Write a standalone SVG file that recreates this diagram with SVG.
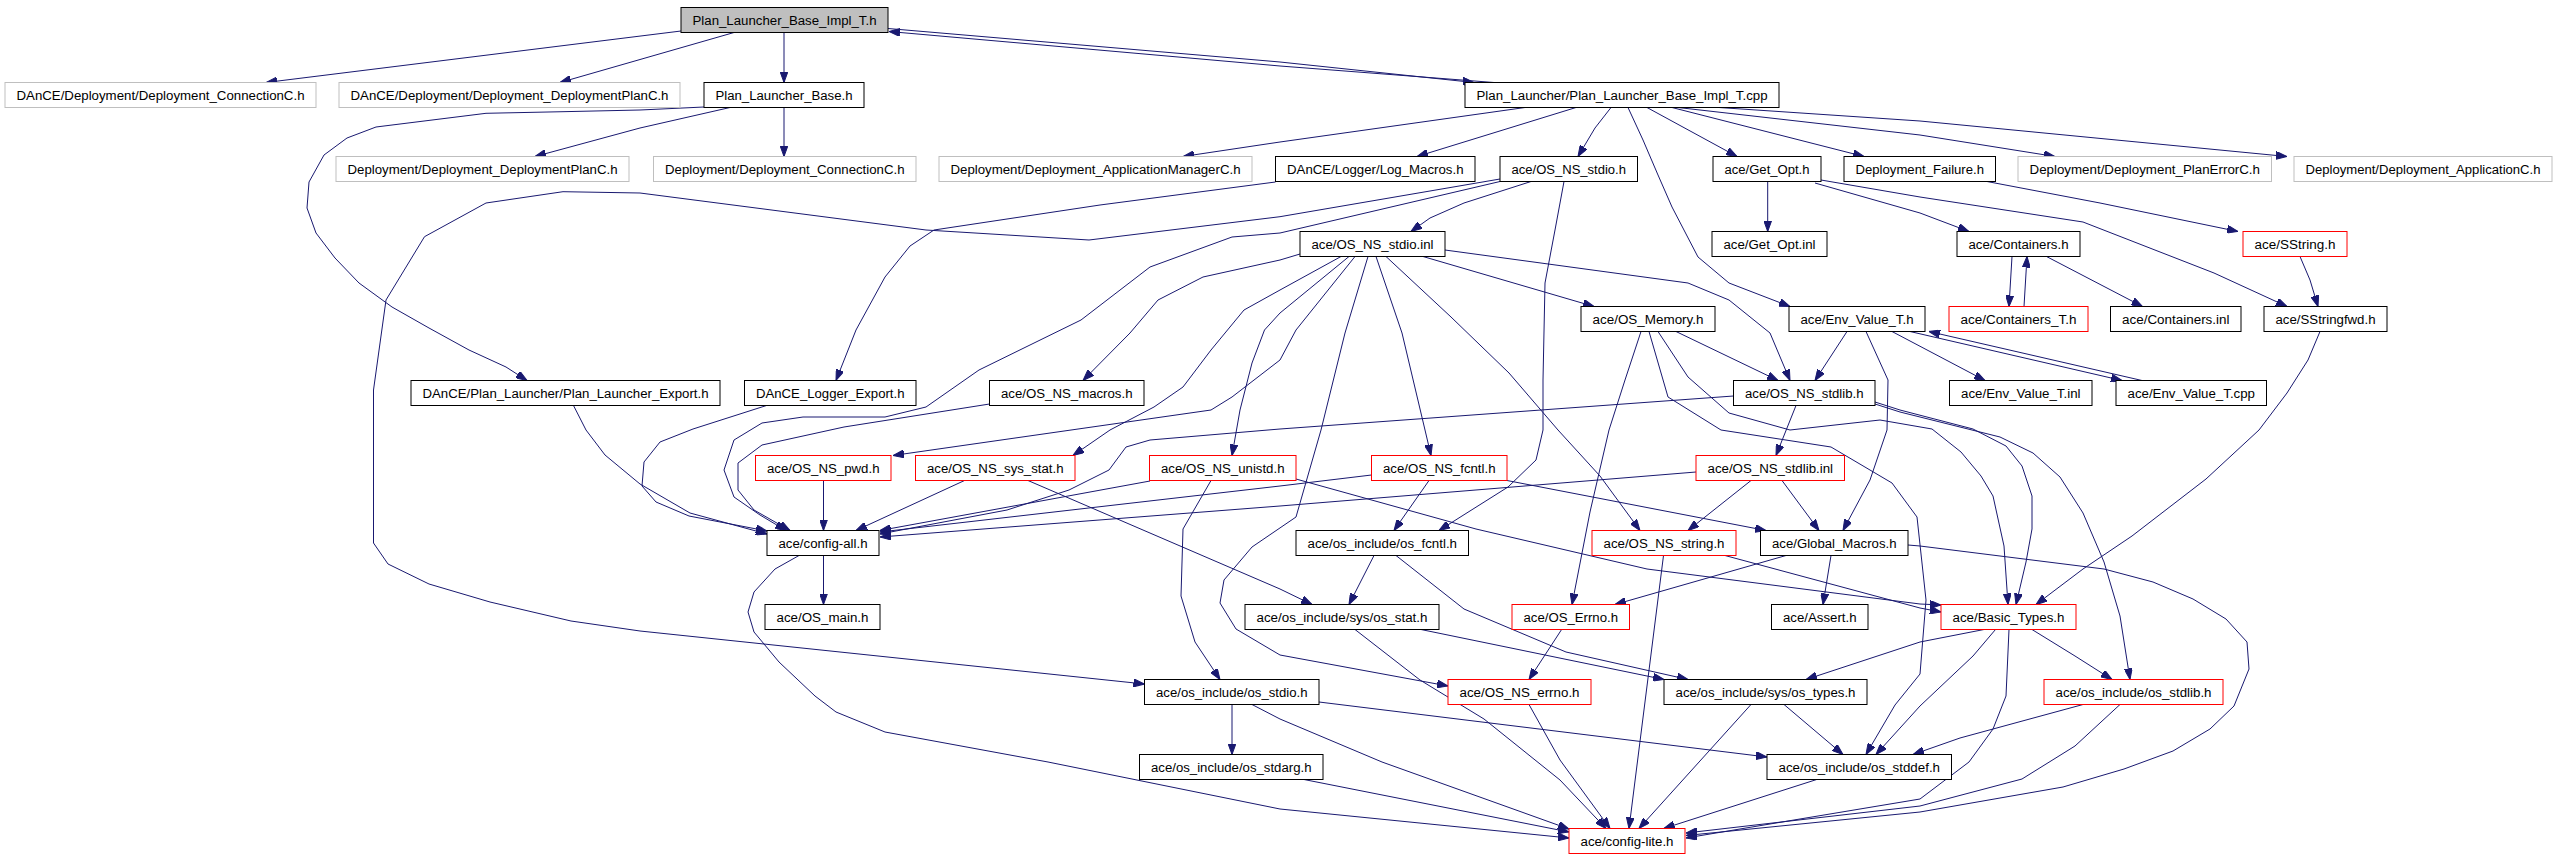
<svg xmlns="http://www.w3.org/2000/svg" width="2556" height="859" viewBox="0 0 2556 859">
<defs>
<marker id="a" viewBox="0 0 11 8" refX="11" refY="4" markerWidth="11" markerHeight="8" markerUnits="userSpaceOnUse" orient="auto"><path d="M0,0L11,4L0,8z" fill="#191970" stroke="#191970" stroke-width="1"/></marker>
</defs>
<style>
.node rect{fill:#fff;stroke:#000;stroke-width:1}
.grey rect{stroke:#bfbfbf}
.red rect{stroke:#ff0000}
.root rect{fill:#bfbfbf}
.node text{font-family:"Liberation Sans",Arial,sans-serif;font-size:12.5px;text-anchor:middle;fill:#000}
#edges polyline{fill:none;stroke:#191970;stroke-width:1;stroke-linejoin:round;marker-end:url(#a)}
</style>
<rect width="2556" height="859" fill="#fff"/>
<g id="edges">
<polyline points="681,31 266,82.5"/>
<polyline points="734,32.5 560,82.5"/>
<polyline points="784,32.5 784,82.5"/>
<polyline points="888,28.5 1280,62 1474,82.5"/>
<polyline points="1494,82.5 1280,66 889,31.5"/>
<polyline points="704,107 640,110 563,111.7 486,113.3 376,127 347,138 324,155 309,182 307,208 316,233 335,258 359,283 392,307 429,328 469,350 506,367 527,380.5"/>
<polyline points="730,107.5 640,128 535,156.5"/>
<polyline points="784,107.5 784,156.5"/>
<polyline points="1525,107.5 1280,142 1183,156.5"/>
<polyline points="1576,107.5 1417,156.5"/>
<polyline points="1611,107.5 1595,128 1578,156.5"/>
<polyline points="1628,107.5 1643,140 1658,175 1672,207 1698,257 1729,283 1790,306.5"/>
<polyline points="1647,107.5 1737,156.5"/>
<polyline points="1672,107.5 1864,156.5"/>
<polyline points="1678,107.5 1920,135 2055,156.5"/>
<polyline points="1719,107.5 1920,121 2287,156.5"/>
<polyline points="1275.5,182 1100,205 934,230 910,246 885,277 856,330 836,380.5"/>
<polyline points="1531,181.5 1464,203 1430,218 1411,231.5"/>
<polyline points="1564,181.5 1555,230 1545,283 1543,380 1543,430 1536,460 1508,487 1439,530.5"/>
<polyline points="1500,179 1280,216.7 1089,240 926,230 640,193 563,191.7 486,203 424.5,236.7 386,300 373.5,390 373.5,543 388,564 429,584 490,602 571,621 640,631 1144.5,684"/>
<polyline points="1500,181.5 1280,233 1232,237 1150,267 1081,320 979,370 926,407 885,417 846,417 803,417 762,423 734,440 724,470 734,497 760,515 786,530.5"/>
<polyline points="1300,254 1280,260 1203,277 1158,300 1130,333 1083,380.5"/>
<polyline points="1341,256.5 1280,290 1244,310 1211,350 1183,387 1154,407 1110,430 1073,455.5"/>
<polyline points="1355,256.5 1296,330 1280,360 1232,397 1211,410 1162,417 893,455.5"/>
<polyline points="1349,256.5 1280,313 1264.5,330 1252,363 1240,410 1232,455.5"/>
<polyline points="1368,256.5 1345,333 1321,430 1296,517 1252,547 1224,580 1220,603 1236,629 1280,655 1448,686"/>
<polyline points="1376,256.5 1402,333 1425,430 1431,455.5"/>
<polyline points="1386,256.5 1451,317 1509,373 1558,430 1600,476 1640,530.5"/>
<polyline points="1423,256.5 1594,306.5"/>
<polyline points="1445,250 1688,283 1729,300 1770,333 1790,380.5"/>
<polyline points="1641,331.5 1625,380 1609,430 1590,512 1572,604.5"/>
<polyline points="1658,331.5 1688,377 1729,413 1790,430 1880,420 1932,429 1961,452 1981,476 1993,496 2004,546 2008,604.5"/>
<polyline points="1676,331.5 1778,380.5"/>
<polyline points="1649,331.5 1668,397 1721,430 1831,447 1892,483 1917,517 1926,600 1920,674 1895,705 1866,754.5"/>
<polyline points="1847,331.5 1815,380.5"/>
<polyline points="1866,331.5 1888,380 1887,430 1870,480 1843,530.5"/>
<polyline points="1892,331.5 1985,380.5"/>
<polyline points="1910,331.5 2122,380.5"/>
<polyline points="2142,380.5 1929,331.5"/>
<polyline points="1796,405.5 1776,455.5"/>
<polyline points="1733.5,396 1280,429 1150,440 1126,447 1109,470 1069,490 1007,510 880,534"/>
<polyline points="1875,402 1900,410 1973,429 2006,446 2022,466 2032,496 2032,529 2026,562 2016,604.5"/>
<polyline points="1875,404 1900,412 2000,437 2033,453 2060,477 2083,513 2104,562 2120,616 2130,679.5"/>
<polyline points="1751,480.5 1688,530.5"/>
<polyline points="1782,480.5 1819,530.5"/>
<polyline points="1696,472 1280,506 880,537"/>
<polyline points="1429,480.5 1394,530.5"/>
<polyline points="1507,480.5 1766,530.5"/>
<polyline points="1371.5,475 1280,486 880,532"/>
<polyline points="1150,481 880,530.5"/>
<polyline points="1211,480.5 1183,529 1181,596 1195,642 1220,679.5"/>
<polyline points="1296,479 1476,529 1647,569 1920,604 1941,605"/>
<polyline points="964.5,480.5 856,530.5"/>
<polyline points="1028,480.5 1280,589 1312,604.5"/>
<polyline points="823.5,480.5 823.5,530.5"/>
<polyline points="989.5,404 844,427 762,445 738,463 738,490 754,510 790,530.5"/>
<polyline points="573.5,405.5 586,430 605,455 640,484 690,513 767,534"/>
<polyline points="766.5,405.5 693,429 660,442 644,462 642,486 656,502 689,516 767,531"/>
<polyline points="823.5,555.5 823.5,604.5"/>
<polyline points="799,555.5 775,569 754,592 748,612 754,632 779,662 815,696 836,712 885,732 1048,762 1280,809 1569,838"/>
<polyline points="1232,704.5 1232,754.5"/>
<polyline points="1319,702 1767,757"/>
<polyline points="1252,704.5 1280,719 1382,762 1569,829"/>
<polyline points="1304,779.5 1569,832"/>
<polyline points="1529,704.5 1560,760 1610,828.5"/>
<polyline points="1355,629.5 1420,680 1484,719 1560,780 1606,828.5"/>
<polyline points="1421,629.5 1664,679.5"/>
<polyline points="1663.5,555.5 1629,828.5"/>
<polyline points="1725,555.5 1920,608 1941,612"/>
<polyline points="1786,555.5 1615,604.5"/>
<polyline points="1831,555.5 1823,604.5"/>
<polyline points="1908,545 1920,546 2104,569 2153,582 2193,599 2226,619 2247,642 2249,669 2234,706 2210,729 2173,751 2124,769 2063,787 1920,812 1686,835.5"/>
<polyline points="1374,555.5 1349,604.5"/>
<polyline points="1396,555.5 1464,609 1566,652 1688,679.5"/>
<polyline points="1561.6,629.5 1529,679.5"/>
<polyline points="1984,629.5 1920,642 1806,679.5"/>
<polyline points="1995.5,629.5 1973,656 1920,706 1876,754.5"/>
<polyline points="2032,629.5 2075,656 2112,679.5"/>
<polyline points="2009,629.5 2006,696 1993,729 1969,762 1920,799 1686,838"/>
<polyline points="2083,704.5 1960,738 1913,754.5"/>
<polyline points="2120,704.5 2075,746 2022,779 1920,806 1686,833"/>
<polyline points="1751,704.5 1639,828.5"/>
<polyline points="1784,704.5 1843,754.5"/>
<polyline points="1816.7,779.5 1663.7,828.5"/>
<polyline points="2320,331.5 2308,360 2287,393 2259,430 2206,479 2132,536 2083,569 2036,604.5"/>
<polyline points="2300,256.5 2310,280 2318,306.5"/>
<polyline points="2012,256.5 2009,306.5"/>
<polyline points="2024,306.5 2027,256.5"/>
<polyline points="2046.5,256.5 2142.5,306.5"/>
<polyline points="1767.7,181.5 1767.7,231.5"/>
<polyline points="1815,183 1920,213 1969,231.5"/>
<polyline points="1821,180 1920,197 2083,222 2214,273 2287,306.5"/>
<polyline points="1987,181.5 2100,203 2238,231.5"/>
</g>
<g id="n1" class="node root"><rect x="681" y="7.5" width="207" height="25"/><text x="784.5" y="24.5" textLength="184" lengthAdjust="spacingAndGlyphs">Plan_Launcher_Base_Impl_T.h</text></g>
<g id="n2" class="node grey"><rect x="5" y="82.5" width="311" height="25"/><text x="160.5" y="99.5" textLength="288" lengthAdjust="spacingAndGlyphs">DAnCE/Deployment/Deployment_ConnectionC.h</text></g>
<g id="n3" class="node grey"><rect x="339" y="82.5" width="341" height="25"/><text x="509.5" y="99.5" textLength="318" lengthAdjust="spacingAndGlyphs">DAnCE/Deployment/Deployment_DeploymentPlanC.h</text></g>
<g id="n4" class="node"><rect x="704" y="82.5" width="160" height="25"/><text x="784" y="99.5" textLength="137" lengthAdjust="spacingAndGlyphs">Plan_Launcher_Base.h</text></g>
<g id="n5" class="node"><rect x="1465" y="82.5" width="314" height="25"/><text x="1622" y="99.5" textLength="291" lengthAdjust="spacingAndGlyphs">Plan_Launcher/Plan_Launcher_Base_Impl_T.cpp</text></g>
<g id="n6" class="node grey"><rect x="336" y="156.5" width="293" height="25"/><text x="482.5" y="173.5" textLength="270" lengthAdjust="spacingAndGlyphs">Deployment/Deployment_DeploymentPlanC.h</text></g>
<g id="n7" class="node grey"><rect x="653.5" y="156.5" width="262.5" height="25"/><text x="784.75" y="173.5" textLength="239.5" lengthAdjust="spacingAndGlyphs">Deployment/Deployment_ConnectionC.h</text></g>
<g id="n8" class="node grey"><rect x="939" y="156.5" width="313" height="25"/><text x="1095.5" y="173.5" textLength="290" lengthAdjust="spacingAndGlyphs">Deployment/Deployment_ApplicationManagerC.h</text></g>
<g id="n9" class="node"><rect x="1275.5" y="156.5" width="199.5" height="25"/><text x="1375.25" y="173.5" textLength="176.5" lengthAdjust="spacingAndGlyphs">DAnCE/Logger/Log_Macros.h</text></g>
<g id="n10" class="node"><rect x="1500" y="156.5" width="137.5" height="25"/><text x="1568.75" y="173.5" textLength="114.5" lengthAdjust="spacingAndGlyphs">ace/OS_NS_stdio.h</text></g>
<g id="n11" class="node"><rect x="1713" y="156.5" width="108" height="25"/><text x="1767" y="173.5" textLength="85" lengthAdjust="spacingAndGlyphs">ace/Get_Opt.h</text></g>
<g id="n12" class="node"><rect x="1844" y="156.5" width="151.5" height="25"/><text x="1919.75" y="173.5" textLength="128.5" lengthAdjust="spacingAndGlyphs">Deployment_Failure.h</text></g>
<g id="n13" class="node grey"><rect x="2018" y="156.5" width="253.5" height="25"/><text x="2144.75" y="173.5" textLength="230.5" lengthAdjust="spacingAndGlyphs">Deployment/Deployment_PlanErrorC.h</text></g>
<g id="n14" class="node grey"><rect x="2294" y="156.5" width="258" height="25"/><text x="2423" y="173.5" textLength="235" lengthAdjust="spacingAndGlyphs">Deployment/Deployment_ApplicationC.h</text></g>
<g id="n15" class="node"><rect x="1300" y="231.5" width="145" height="25"/><text x="1372.5" y="248.5" textLength="122" lengthAdjust="spacingAndGlyphs">ace/OS_NS_stdio.inl</text></g>
<g id="n16" class="node"><rect x="1712" y="231.5" width="115" height="25"/><text x="1769.5" y="248.5" textLength="92" lengthAdjust="spacingAndGlyphs">ace/Get_Opt.inl</text></g>
<g id="n17" class="node"><rect x="1957" y="231.5" width="123" height="25"/><text x="2018.5" y="248.5" textLength="100" lengthAdjust="spacingAndGlyphs">ace/Containers.h</text></g>
<g id="n18" class="node red"><rect x="2243" y="231.5" width="104" height="25"/><text x="2295" y="248.5" textLength="81" lengthAdjust="spacingAndGlyphs">ace/SString.h</text></g>
<g id="n19" class="node"><rect x="1581" y="306.5" width="134" height="25"/><text x="1648" y="323.5" textLength="111" lengthAdjust="spacingAndGlyphs">ace/OS_Memory.h</text></g>
<g id="n20" class="node"><rect x="1789" y="306.5" width="136" height="25"/><text x="1857" y="323.5" textLength="113" lengthAdjust="spacingAndGlyphs">ace/Env_Value_T.h</text></g>
<g id="n21" class="node red"><rect x="1949" y="306.5" width="139" height="25"/><text x="2018.5" y="323.5" textLength="116" lengthAdjust="spacingAndGlyphs">ace/Containers_T.h</text></g>
<g id="n22" class="node"><rect x="2110.5" y="306.5" width="130.5" height="25"/><text x="2175.75" y="323.5" textLength="107.5" lengthAdjust="spacingAndGlyphs">ace/Containers.inl</text></g>
<g id="n23" class="node"><rect x="2264" y="306.5" width="123" height="25"/><text x="2325.5" y="323.5" textLength="100" lengthAdjust="spacingAndGlyphs">ace/SStringfwd.h</text></g>
<g id="n24" class="node"><rect x="411" y="380.5" width="309" height="25"/><text x="565.5" y="397.5" textLength="286" lengthAdjust="spacingAndGlyphs">DAnCE/Plan_Launcher/Plan_Launcher_Export.h</text></g>
<g id="n25" class="node"><rect x="744.5" y="380.5" width="171.5" height="25"/><text x="830.25" y="397.5" textLength="148.5" lengthAdjust="spacingAndGlyphs">DAnCE_Logger_Export.h</text></g>
<g id="n26" class="node"><rect x="989.5" y="380.5" width="154.5" height="25"/><text x="1066.75" y="397.5" textLength="131.5" lengthAdjust="spacingAndGlyphs">ace/OS_NS_macros.h</text></g>
<g id="n27" class="node"><rect x="1733.5" y="380.5" width="141.5" height="25"/><text x="1804.25" y="397.5" textLength="118.5" lengthAdjust="spacingAndGlyphs">ace/OS_NS_stdlib.h</text></g>
<g id="n28" class="node"><rect x="1949.5" y="380.5" width="142.5" height="25"/><text x="2020.75" y="397.5" textLength="119.5" lengthAdjust="spacingAndGlyphs">ace/Env_Value_T.inl</text></g>
<g id="n29" class="node"><rect x="2116" y="380.5" width="150.5" height="25"/><text x="2191.25" y="397.5" textLength="127.5" lengthAdjust="spacingAndGlyphs">ace/Env_Value_T.cpp</text></g>
<g id="n30" class="node red"><rect x="755.5" y="455.5" width="135.5" height="25"/><text x="823.25" y="472.5" textLength="112.5" lengthAdjust="spacingAndGlyphs">ace/OS_NS_pwd.h</text></g>
<g id="n31" class="node red"><rect x="915.5" y="455.5" width="159.5" height="25"/><text x="995.25" y="472.5" textLength="136.5" lengthAdjust="spacingAndGlyphs">ace/OS_NS_sys_stat.h</text></g>
<g id="n32" class="node red"><rect x="1149.5" y="455.5" width="146.5" height="25"/><text x="1222.75" y="472.5" textLength="123.5" lengthAdjust="spacingAndGlyphs">ace/OS_NS_unistd.h</text></g>
<g id="n33" class="node red"><rect x="1371.5" y="455.5" width="135.5" height="25"/><text x="1439.25" y="472.5" textLength="112.5" lengthAdjust="spacingAndGlyphs">ace/OS_NS_fcntl.h</text></g>
<g id="n34" class="node red"><rect x="1696" y="455.5" width="148.5" height="25"/><text x="1770.25" y="472.5" textLength="125.5" lengthAdjust="spacingAndGlyphs">ace/OS_NS_stdlib.inl</text></g>
<g id="n35" class="node"><rect x="767" y="530.5" width="112" height="25"/><text x="823" y="547.5" textLength="89" lengthAdjust="spacingAndGlyphs">ace/config-all.h</text></g>
<g id="n36" class="node"><rect x="1296" y="530.5" width="172.5" height="25"/><text x="1382.25" y="547.5" textLength="149.5" lengthAdjust="spacingAndGlyphs">ace/os_include/os_fcntl.h</text></g>
<g id="n37" class="node red"><rect x="1592" y="530.5" width="144" height="25"/><text x="1664" y="547.5" textLength="121" lengthAdjust="spacingAndGlyphs">ace/OS_NS_string.h</text></g>
<g id="n38" class="node"><rect x="1760.5" y="530.5" width="147.5" height="25"/><text x="1834.25" y="547.5" textLength="124.5" lengthAdjust="spacingAndGlyphs">ace/Global_Macros.h</text></g>
<g id="n39" class="node"><rect x="765" y="604.5" width="115" height="25"/><text x="822.5" y="621.5" textLength="92" lengthAdjust="spacingAndGlyphs">ace/OS_main.h</text></g>
<g id="n40" class="node"><rect x="1245" y="604.5" width="194" height="25"/><text x="1342" y="621.5" textLength="171" lengthAdjust="spacingAndGlyphs">ace/os_include/sys/os_stat.h</text></g>
<g id="n41" class="node red"><rect x="1512" y="604.5" width="117.5" height="25"/><text x="1570.75" y="621.5" textLength="94.5" lengthAdjust="spacingAndGlyphs">ace/OS_Errno.h</text></g>
<g id="n42" class="node"><rect x="1771.5" y="604.5" width="96.5" height="25"/><text x="1819.75" y="621.5" textLength="73.5" lengthAdjust="spacingAndGlyphs">ace/Assert.h</text></g>
<g id="n43" class="node red"><rect x="1941" y="604.5" width="135" height="25"/><text x="2008.5" y="621.5" textLength="112" lengthAdjust="spacingAndGlyphs">ace/Basic_Types.h</text></g>
<g id="n44" class="node"><rect x="1144.5" y="679.5" width="174.5" height="25"/><text x="1231.75" y="696.5" textLength="151.5" lengthAdjust="spacingAndGlyphs">ace/os_include/os_stdio.h</text></g>
<g id="n45" class="node red"><rect x="1448" y="679.5" width="143" height="25"/><text x="1519.5" y="696.5" textLength="120" lengthAdjust="spacingAndGlyphs">ace/OS_NS_errno.h</text></g>
<g id="n46" class="node"><rect x="1664" y="679.5" width="203" height="25"/><text x="1765.5" y="696.5" textLength="180" lengthAdjust="spacingAndGlyphs">ace/os_include/sys/os_types.h</text></g>
<g id="n47" class="node red"><rect x="2044" y="679.5" width="179" height="25"/><text x="2133.5" y="696.5" textLength="156" lengthAdjust="spacingAndGlyphs">ace/os_include/os_stdlib.h</text></g>
<g id="n48" class="node"><rect x="1139.5" y="754.5" width="183.5" height="25"/><text x="1231.25" y="771.5" textLength="160.5" lengthAdjust="spacingAndGlyphs">ace/os_include/os_stdarg.h</text></g>
<g id="n49" class="node"><rect x="1767" y="754.5" width="184.5" height="25"/><text x="1859.25" y="771.5" textLength="161.5" lengthAdjust="spacingAndGlyphs">ace/os_include/os_stddef.h</text></g>
<g id="n50" class="node red"><rect x="1569" y="828.5" width="116" height="25"/><text x="1627" y="845.5" textLength="93" lengthAdjust="spacingAndGlyphs">ace/config-lite.h</text></g>
</svg>
